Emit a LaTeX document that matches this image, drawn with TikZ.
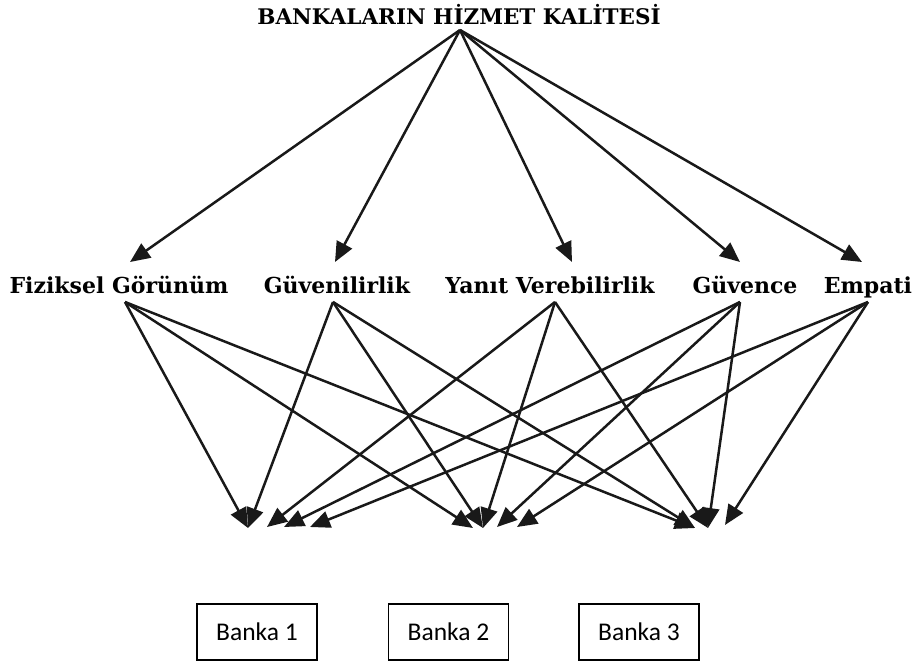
\documentclass[tikz,border=0pt]{standalone}
\usepackage{fontspec}
\setmainfont{DejaVu Serif}
\newfontfamily\boxfont{Carlito}
\usetikzlibrary{arrows.meta}
\begin{document}
\begin{tikzpicture}[x=1pt,y=-1pt,
  lbl/.style={font=\fontsize{22}{26}\selectfont\bfseries, inner sep=0pt, anchor=base},
  ttl/.style={font=\fontsize{21.5}{26}\selectfont\bfseries, inner sep=0pt, anchor=base},
  conn/.style={line width=2.5pt, draw=black!90, -{Triangle[length=20pt,width=17pt]}},
  bankbox/.style={draw, line width=1.3pt, minimum width=120pt, minimum height=56pt, inner sep=0pt, font=\boxfont\fontsize{25.5}{30}\selectfont}]
\useasboundingbox (0,0) rectangle (923,663);
% title
\node[ttl] (title) at (459,25) {BANKALARIN HİZMET KALİTESİ};
\coordinate (tsrc) at (460,30);
% dimension labels
\node[lbl] (fiz) at (119,293) {Fiziksel Görünüm};
\node[lbl] (guvl) at (337,293) {Güvenilirlik};
\node[lbl] (yan) at (550,293) {Yanıt Verebilirlik};
\node[lbl] (guvc) at (745,293) {Güvence};
\node[lbl] (emp) at (868,293) {Empati};
% arrow targets at top of labels
\coordinate (fizT) at (130,262);
\coordinate (guvlT) at (335,262);
\coordinate (yanT) at (572,262);
\coordinate (guvcT) at (740,262);
\coordinate (empT) at (862,262);
% arrow sources at bottom of labels
\coordinate (fizB) at (125,302);
\coordinate (guvlB) at (333,302);
\coordinate (yanB) at (555,302);
\coordinate (guvcB) at (740,302);
\coordinate (empB) at (868,302);
% bottom tips
\coordinate (g1a) at (248,528);
\coordinate (g1b) at (267,527);
\coordinate (g1c) at (284,527);
\coordinate (g1d) at (310,527);
\coordinate (g2a) at (473,528);
\coordinate (g2b) at (483,528);
\coordinate (g2c) at (497,527);
\coordinate (g2d) at (517,527);
\coordinate (g3a) at (695,528);
\coordinate (g3b) at (708,528);
\coordinate (g3c) at (725,525);
% top arrows
\foreach \t in {fizT,guvlT,yanT,guvcT,empT} \draw[conn] (tsrc) -- (\t);
% lower arrows
\draw[conn] (fizB) -- (g1a);
\draw[conn] (fizB) -- (g2a);
\draw[conn] (fizB) -- (g3a);
\draw[conn] (guvlB) -- (g1a);
\draw[conn] (guvlB) -- (g2b);
\draw[conn] (guvlB) -- (g3a);
\draw[conn] (yanB) -- (g1b);
\draw[conn] (yanB) -- (g2b);
\draw[conn] (yanB) -- (g3b);
\draw[conn] (guvcB) -- (g1c);
\draw[conn] (guvcB) -- (g2c);
\draw[conn] (guvcB) -- (g3b);
\draw[conn] (empB) -- (g1d);
\draw[conn] (empB) -- (g2d);
\draw[conn] (empB) -- (g3c);
% banks
\node[bankbox] (b1) at (257,632) {Banka 1};
\node[bankbox] (b2) at (448.5,632) {Banka 2};
\node[bankbox] (b3) at (639,632) {Banka 3};
\end{tikzpicture}
\end{document}
